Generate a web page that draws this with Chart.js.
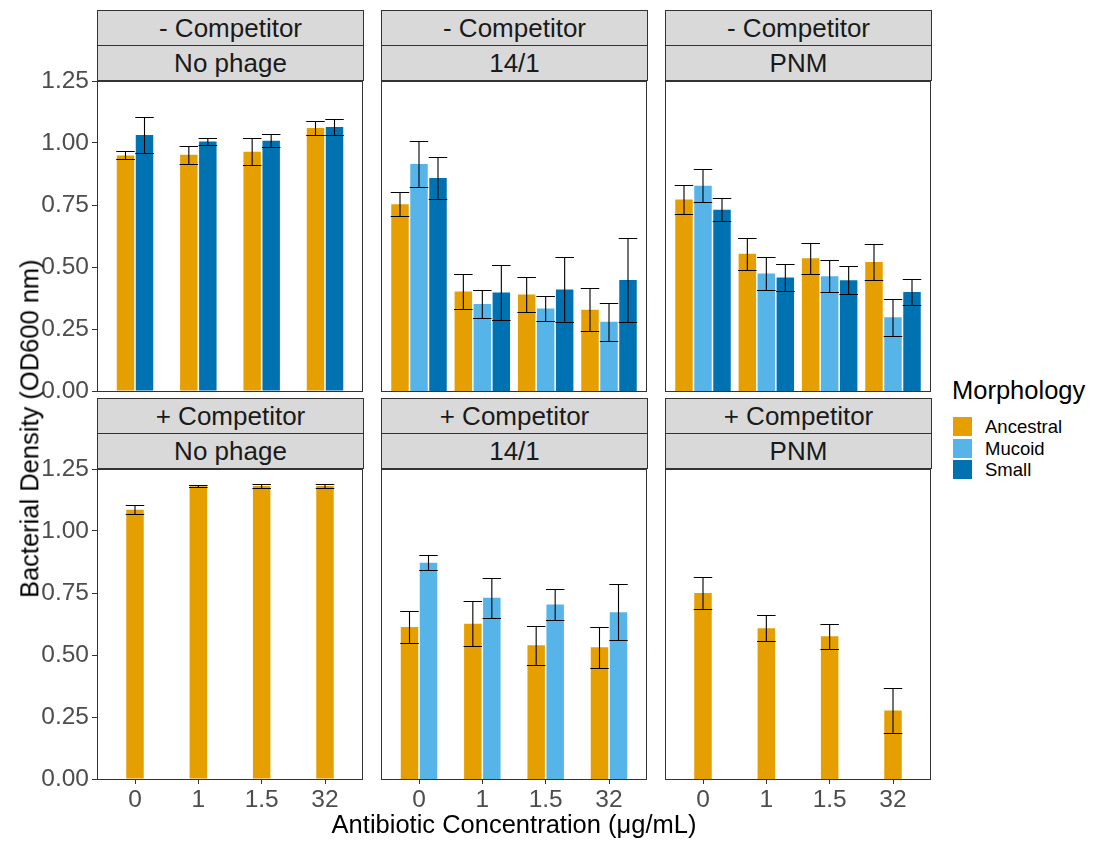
<!DOCTYPE html>
<html>
<head>
<meta charset="utf-8">
<script src="https://cdn.jsdelivr.net/npm/chart.js@4.4.1/dist/chart.umd.min.js"></script>
<style>
  html, body { margin: 0; padding: 0; background: #fff; }
  body {
    width: 1095px; height: 841px; position: relative; overflow: hidden;
    font-family: 'Liberation Sans', Arial, sans-serif;
  }
  canvas.facet { position: absolute; }
  .strip {
    position: absolute; box-sizing: border-box;
    background: #d9d9d9; border: 1px solid #333;
    text-align: center; font-size: 26px; color: #1a1a1a;
  }
  .title { position: absolute; color: #000; white-space: nowrap; line-height: 1.15; }
  .key { position: absolute; width: 19px; height: 19px; }
  .keylab { position: absolute; font-size: 18.5px; color: #000; line-height: 19px; }
</style>
</head>
<body>
<script>
// x categories (antibiotic concentration, µg/mL)
const CONC = ['0', '1', '1.5', '32'];

// - Competitor / No phage
const noPhageAnc     = [0.950, 0.953, 0.965, 1.060];
const noPhageAncSE   = [0.016, 0.036, 0.055, 0.029];
const noPhageSmall   = [1.032, 1.006, 1.009, 1.065];
const noPhageSmallSE = [0.074, 0.015, 0.026, 0.031];

// - Competitor / 14/1
const p141Anc     = [0.753, 0.401, 0.389, 0.328];
const p141AncSE   = [0.049, 0.072, 0.072, 0.087];
const p141Muc     = [0.915, 0.351, 0.333, 0.279];
const p141MucSE   = [0.094, 0.057, 0.051, 0.076];
const p141Small   = [0.859, 0.397, 0.409, 0.448];
const p141SmallSE = [0.086, 0.111, 0.131, 0.170];

// - Competitor / PNM
const pnmAnc     = [0.772, 0.553, 0.535, 0.520];
const pnmAncSE   = [0.060, 0.065, 0.063, 0.074];
const pnmMuc     = [0.828, 0.474, 0.463, 0.297];
const pnmMucSE   = [0.067, 0.067, 0.064, 0.075];
const pnmSmall   = [0.731, 0.458, 0.447, 0.399];
const pnmSmallSE = [0.046, 0.055, 0.057, 0.051];

// + Competitor
const compNoPhageAnc   = [1.086, 1.180, 1.181, 1.181];
const compNoPhageAncSE = [0.017, 0.004, 0.008, 0.008];
const comp141Anc   = [0.613, 0.626, 0.539, 0.531];
const comp141AncSE = [0.066, 0.090, 0.078, 0.082];
const comp141Muc   = [0.872, 0.731, 0.704, 0.672];
const comp141MucSE = [0.031, 0.080, 0.064, 0.113];
const compPnmAnc   = [0.750, 0.608, 0.576, 0.276];
const compPnmAncSE = [0.065, 0.053, 0.050, 0.092];

const MORPH_COLORS = { Ancestral: '#E69F00', Mucoid: '#56B4E9', Small: '#0072B2' };

const panels = [
  { row: 0, col: 0, strips: ['- Competitor', 'No phage'],
    series: [['Ancestral', noPhageAnc, noPhageAncSE], ['Small', noPhageSmall, noPhageSmallSE]] },
  { row: 0, col: 1, strips: ['- Competitor', '14/1'],
    series: [['Ancestral', p141Anc, p141AncSE], ['Mucoid', p141Muc, p141MucSE], ['Small', p141Small, p141SmallSE]] },
  { row: 0, col: 2, strips: ['- Competitor', 'PNM'],
    series: [['Ancestral', pnmAnc, pnmAncSE], ['Mucoid', pnmMuc, pnmMucSE], ['Small', pnmSmall, pnmSmallSE]] },
  { row: 1, col: 0, strips: ['+ Competitor', 'No phage'],
    series: [['Ancestral', compNoPhageAnc, compNoPhageAncSE]] },
  { row: 1, col: 1, strips: ['+ Competitor', '14/1'],
    series: [['Ancestral', comp141Anc, comp141AncSE], ['Mucoid', comp141Muc, comp141MucSE]] },
  { row: 1, col: 2, strips: ['+ Competitor', 'PNM'],
    series: [['Ancestral', compPnmAnc, compPnmAncSE]] },
];

// facet grid geometry
const COL_X = [97, 381, 665];
const ROW_Y = [81, 469];
const PANEL_W = 266, PANEL_H = 310;
const X_AXIS_H = 40;
const STRIP_H = 36;
const TICK_FONT = { size: 24.5 };

Chart.defaults.font.family = "'Liberation Sans', Arial, sans-serif";

// panel outline
const panelFrame = {
  id: 'panelFrame',
  afterDraw(chart) {
    const { ctx, chartArea: a } = chart;
    ctx.save();
    ctx.strokeStyle = '#333';
    ctx.lineWidth = 1;
    ctx.strokeRect(a.left + 0.5, a.top + 0.5, a.right - a.left - 1, a.bottom - a.top);
    ctx.restore();
  },
};

// mean ± se whiskers on each bar
const errorBars = {
  id: 'errorBars',
  afterDatasetsDraw(chart) {
    const { ctx, scales: { y } } = chart;
    ctx.save();
    ctx.strokeStyle = '#000';
    ctx.lineWidth = 1.1;
    chart.data.datasets.forEach((ds, di) => {
      chart.getDatasetMeta(di).data.forEach((bar, i) => {
        const m = ds.data[i].y, e = ds.errors[i];
        const hi = Math.round(y.getPixelForValue(m + e)) + 0.5;
        const lo = Math.round(y.getPixelForValue(m - e)) + 0.5;
        const half = bar.width / 2 + 0.5;
        ctx.beginPath();
        ctx.moveTo(bar.x, hi); ctx.lineTo(bar.x, lo);
        ctx.moveTo(bar.x - half, hi); ctx.lineTo(bar.x + half, hi);
        ctx.moveTo(bar.x - half, lo); ctx.lineTo(bar.x + half, lo);
        ctx.stroke();
      });
    });
    ctx.restore();
  },
};

function makePanel(p) {
  const isLeft = p.col === 0;
  const isBottom = p.row === 1;
  const areaL = COL_X[p.col], areaT = ROW_Y[p.row];
  const padT = 24, padR = 4, padL = 2;
  const padB = isBottom ? 4 : 24;
  const canvasL = isLeft ? 0 : areaL - padL;
  const canvasT = areaT - padT;
  const w = (areaL - canvasL) + PANEL_W + padR;
  const h = padT + PANEL_H + (isBottom ? X_AXIS_H : 0) + padB;

  const cv = document.createElement('canvas');
  cv.className = 'facet';
  cv.width = w; cv.height = h;
  cv.style.left = canvasL + 'px';
  cv.style.top = canvasT + 'px';
  cv.style.width = w + 'px';
  cv.style.height = h + 'px';
  document.body.appendChild(cv);

  new Chart(cv, {
    type: 'bar',
    data: {
      datasets: p.series.map(([name, vals, se]) => ({
        label: name,
        data: vals.map((v, i) => ({ x: i, y: v })),
        errors: se,
        backgroundColor: MORPH_COLORS[name],
        borderWidth: 0,
        categoryPercentage: 0.3 * p.series.length,
        barPercentage: 0.92,
      })),
    },
    options: {
      responsive: false,
      animation: false,
      events: [],
      layout: { padding: { left: padL, right: padR, top: padT, bottom: padB } },
      plugins: { legend: { display: false }, tooltip: { enabled: false } },
      scales: {
        x: {
          type: 'linear', min: -0.6, max: 3.6, offset: false,
          display: isBottom,
          afterBuildTicks: s => { s.ticks = CONC.map((_, i) => ({ value: i })); },
          afterFit: s => { if (isBottom) s.height = X_AXIS_H; },
          ticks: {
            callback: v => CONC[v],
            font: TICK_FONT, color: '#4d4d4d', padding: 2,
            maxRotation: 0, autoSkip: false,
          },
          grid: { offset: false, drawOnChartArea: false, tickLength: 5, color: '#333' },
          border: { display: false },
        },
        y: {
          min: 0, max: 1.25,
          display: isLeft,
          afterFit: s => { if (isLeft) s.width = areaL - padL; },
          ticks: {
            stepSize: 0.25,
            callback: v => v.toFixed(2),
            font: TICK_FONT, color: '#4d4d4d', padding: 3,
          },
          grid: { drawOnChartArea: false, tickLength: 5, color: '#333' },
          border: { display: false },
        },
      },
    },
    plugins: [errorBars, panelFrame],
  });

  // facet strips
  p.strips.forEach((txt, k) => {
    const s = document.createElement('div');
    s.className = 'strip';
    const top = areaT - (2 - k) * (STRIP_H - 0.5) - 0.5;
    s.style.left = areaL + 'px';
    s.style.top = top + 'px';
    s.style.width = (PANEL_W + 1) + 'px';
    s.style.height = STRIP_H + 'px';
    s.style.lineHeight = (STRIP_H - 2) + 'px';
    s.textContent = txt;
    document.body.appendChild(s);
  });
}

panels.forEach(makePanel);

// axis titles
function addText(txt, css) {
  const d = document.createElement('div');
  d.className = 'title';
  d.textContent = txt;
  Object.assign(d.style, css);
  document.body.appendChild(d);
  return d;
}
addText('Antibiotic Concentration (\u03BCg/mL)', {
  left: '314px', width: '400px', top: '810px', textAlign: 'center', fontSize: '25.5px',
});
addText('Bacterial Density (OD600 nm)', {
  left: (30 - 200) + 'px', width: '400px', top: (429 - 15) + 'px', textAlign: 'center',
  fontSize: '25.5px', transform: 'rotate(-90deg)',
});

// legend
addText('Morphology', { left: '952px', top: '376px', fontSize: '25.5px' });
Object.keys(MORPH_COLORS).forEach((name, i) => {
  const top = 417 + i * 21.5;
  const k = document.createElement('div');
  k.className = 'key';
  k.style.left = '953px';
  k.style.top = top + 'px';
  k.style.background = MORPH_COLORS[name];
  document.body.appendChild(k);
  const l = document.createElement('div');
  l.className = 'keylab';
  l.style.left = '985px';
  l.style.top = top + 'px';
  l.textContent = name;
  document.body.appendChild(l);
});
</script>
</body>
</html>
